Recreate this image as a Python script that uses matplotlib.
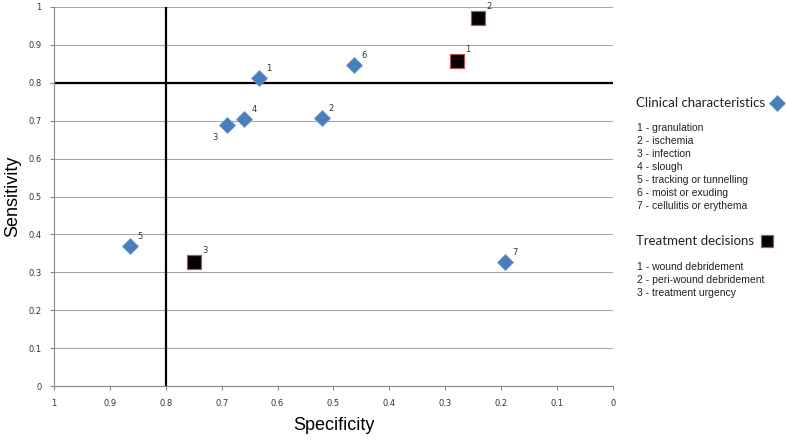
import matplotlib.pyplot as plt
from matplotlib.lines import Line2D
import numpy as np

# clinical characteristics (specificity, sensitivity)
clin_labels = ['1', '2', '3', '4', '5', '6', '7']
clin_spec = [0.633, 0.521, 0.690, 0.660, 0.864, 0.463, 0.193]
clin_sens = [0.813, 0.707, 0.689, 0.704, 0.369, 0.847, 0.327]

# treatment decisions
treat_labels = ['1', '2', '3']
treat_spec = [0.279, 0.241, 0.750]
treat_sens = [0.858, 0.971, 0.327]

clin_names = ['1 - granulation', '2 - ischemia', '3 - infection', '4 - slough',
              '5 - tracking or tunnelling', '6 - moist or exuding',
              '7 - cellulitis or erythema']
treat_names = ['1 - wound debridement', '2 - peri-wound debridement',
               '3 - treatment urgency']

ticks = np.round(np.arange(0, 1.01, 0.1), 1)
tick_labels = ['0', '0.1', '0.2', '0.3', '0.4', '0.5', '0.6', '0.7', '0.8', '0.9', '1']

blue = '#4A7EBB'
blue_edge = '#6C9BD2'
red_edge = '#C0504D'

fig = plt.figure(figsize=(7.87, 4.40), dpi=100)
ax = fig.add_axes([0.0686, 0.1227, 0.7103, 0.8614])

ax.set_xlim(1, 0)
ax.set_ylim(0, 1)
ax.set_xticks(ticks)
ax.set_xticklabels(tick_labels)
ax.set_yticks(ticks)
ax.set_yticklabels(tick_labels)
ax.tick_params(labelsize=6, length=3, color='#888888', colors='#333333', pad=6)
ax.yaxis.grid(True, color='#A6A6A6', linewidth=0.8)
ax.set_axisbelow(True)
for s in ['top', 'right']:
    ax.spines[s].set_visible(False)
for s in ['left', 'bottom']:
    ax.spines[s].set_color('#888888')
    ax.spines[s].set_linewidth(0.8)

# cut-off lines
ax.axvline(0.8, color='black', linewidth=1.6, zorder=2)
ax.axhline(0.8, color='black', linewidth=1.6, zorder=2)

ax.plot(clin_spec, clin_sens, 'D', markersize=8, markerfacecolor=blue,
        markeredgecolor=blue_edge, markeredgewidth=0.6, linestyle='none', zorder=3)
ax.plot(treat_spec, treat_sens, 's', markersize=9.5, markerfacecolor='black',
        markeredgecolor=red_edge, markeredgewidth=0.9, linestyle='none', zorder=3)

for lab, x, y in zip(clin_labels, clin_spec, clin_sens):
    if lab == '3':
        ax.annotate(lab, (x, y), xytext=(-9, -9), textcoords='offset points',
                    fontsize=6, color='#333333', ha='center', va='center')
    else:
        ax.annotate(lab, (x, y), xytext=(7, 7), textcoords='offset points',
                    fontsize=6, color='#333333', ha='center', va='center')
for lab, x, y in zip(treat_labels, treat_spec, treat_sens):
    ax.annotate(lab, (x, y), xytext=(8, 8), textcoords='offset points',
                fontsize=6, color='#333333', ha='center', va='center')

ax.set_xlabel('Specificity', fontsize=13, family='Liberation Sans', labelpad=7)
ax.set_ylabel('Sensitivity', fontsize=13, family='Liberation Sans', labelpad=5)

# right-hand key
fig.text(636 / 787, 1 - 103 / 440, 'Clinical characteristics', fontsize=9.5,
         family='Lato', va='center', color='#222222')
fig.add_artist(Line2D([777 / 787], [1 - 103 / 440], transform=fig.transFigure,
                      marker='D', markersize=8, markerfacecolor=blue,
                      markeredgecolor=blue_edge, markeredgewidth=0.6, linestyle='none'))
for i, name in enumerate(clin_names):
    fig.text(637 / 787, 1 - (128 + 13 * i) / 440, name, fontsize=7.5,
             family='Liberation Sans', va='center', color='#222222')

fig.text(636 / 787, 1 - 241 / 440, 'Treatment decisions', fontsize=9.5,
         family='Lato', va='center', color='#222222')
fig.add_artist(Line2D([767 / 787], [1 - 241 / 440], transform=fig.transFigure,
                      marker='s', markersize=9, markerfacecolor='black',
                      markeredgecolor=red_edge, markeredgewidth=0.9, linestyle='none'))
for i, name in enumerate(treat_names):
    fig.text(637 / 787, 1 - (267 + 13 * i) / 440, name, fontsize=7.5,
             family='Liberation Sans', va='center', color='#222222')

fig.savefig('out.png', dpi=100)
